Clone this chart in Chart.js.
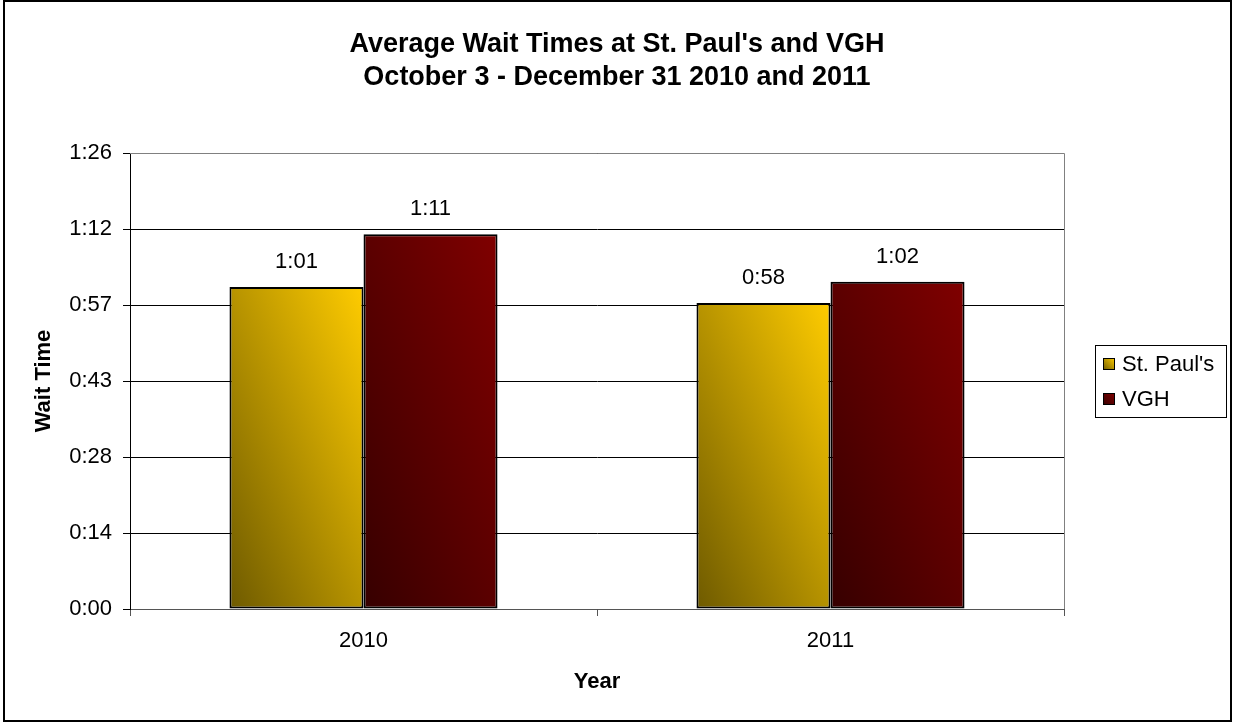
<!DOCTYPE html>
<html>
<head>
<meta charset="utf-8">
<title>Average Wait Times</title>
<script src="https://cdn.jsdelivr.net/npm/chart.js@4.4.1/dist/chart.umd.min.js"></script>
<style>
  html, body { margin: 0; padding: 0; background: #fff; }
</style>
</head>
<body>
<canvas id="grafica" width="1233" height="723"></canvas>
<script>
// Datos de la gráfica (minutos de espera)
const anios = ['2010', '2011'];
const esperaStPaul = [61, 58];
const esperaVGH = [71, 62];
const etiquetasEjeY = ['0:00', '0:14', '0:28', '0:43', '0:57', '1:12', '1:26'];
const pasoEjeY = 14.4;
const maxEjeY = 86.4;
const titulo = ["Average Wait Times at St. Paul's and VGH", 'October 3 - December 31 2010 and 2011'];
const nombresSeries = ["St. Paul's", 'VGH'];

const fuente = '"Liberation Sans", Arial, sans-serif';
const porcentajeCategoria = 0.574;

// Colores del degradado (abajo-izquierda -> arriba-derecha)
const coloresSeries = [
  ['#6e5a00', '#ffcc00'],
  ['#360000', '#800000']
];

// Degradado diagonal tipo Excel dentro de un rectángulo
function crearDegradado(ctx, izq, arriba, ancho, alto, colores) {
  const gx = 1 / (2 * ancho);
  const gy = -1 / (2 * alto);
  const n = gx * gx + gy * gy;
  const x0 = izq, y0 = arriba + alto;
  const g = ctx.createLinearGradient(x0, y0, x0 + gx / n, y0 + gy / n);
  g.addColorStop(0, colores[0]);
  g.addColorStop(1, colores[1]);
  return g;
}

function fondoBarra(context) {
  const colores = coloresSeries[context.datasetIndex];
  const chart = context.chart;
  if (!chart.chartArea || context.type !== 'data') return colores[1];
  const x = chart.scales.x;
  const y = chart.scales.y;
  const anchoGrupo = (x.width / anios.length) * porcentajeCategoria;
  const anchoBarra = anchoGrupo / 2;
  const izq = x.getPixelForValue(context.dataIndex) - anchoGrupo / 2 + context.datasetIndex * anchoBarra;
  const arriba = y.getPixelForValue(context.raw);
  const abajo = y.getPixelForValue(0);
  return crearDegradado(chart.ctx, izq, arriba, anchoBarra, abajo - arriba, colores);
}

function formatoHora(min) {
  const h = Math.floor(min / 60);
  const m = Math.round(min - h * 60);
  return h + ':' + (m < 10 ? '0' + m : m);
}

// Fondo blanco, título, borde del área de trazado y borde exterior
const pluginMarco = {
  id: 'marco',
  beforeDraw(chart) {
    const ctx = chart.ctx;
    ctx.save();
    ctx.fillStyle = '#fff';
    ctx.fillRect(0, 0, chart.width, chart.height);
    ctx.restore();
  },
  beforeDatasetsDraw(chart) {
    const {ctx, chartArea} = chart;
    ctx.save();
    ctx.strokeStyle = '#808080';
    ctx.lineWidth = 1;
    ctx.beginPath();
    ctx.moveTo(chartArea.left, Math.round(chartArea.top) + 0.5);
    ctx.lineTo(Math.round(chartArea.right) + 0.5, Math.round(chartArea.top) + 0.5);
    ctx.lineTo(Math.round(chartArea.right) + 0.5, chartArea.bottom);
    ctx.stroke();
    ctx.restore();
  },
  afterDraw(chart) {
    const ctx = chart.ctx;
    ctx.save();
    ctx.fillStyle = '#000';
    ctx.textAlign = 'center';
    ctx.textBaseline = 'middle';
    ctx.font = 'bold 27px ' + fuente;
    ctx.fillText(titulo[0], 617, 45);
    ctx.fillText(titulo[1], 617, 78);
    ctx.strokeStyle = '#000';
    ctx.lineWidth = 2;
    ctx.strokeRect(4, 1, 1227, 720);
    ctx.restore();
  }
};

// Etiquetas de valor encima de cada barra
const pluginEtiquetas = {
  id: 'etiquetas',
  afterDatasetsDraw(chart) {
    const ctx = chart.ctx;
    ctx.save();
    ctx.fillStyle = '#000';
    ctx.font = '22px ' + fuente;
    ctx.textAlign = 'center';
    ctx.textBaseline = 'middle';
    chart.data.datasets.forEach((ds, i) => {
      chart.getDatasetMeta(i).data.forEach((barra, j) => {
        ctx.fillText(formatoHora(ds.data[j]), barra.x, barra.y - 25);
      });
    });
    ctx.restore();
  }
};

// Leyenda con recuadro a la derecha
const pluginLeyenda = {
  id: 'leyenda',
  afterDraw(chart) {
    const ctx = chart.ctx;
    const caja = {x: 1095, y: 345, w: 131, h: 72};
    ctx.save();
    ctx.strokeStyle = '#000';
    ctx.lineWidth = 1;
    ctx.strokeRect(caja.x + 0.5, caja.y + 0.5, caja.w, caja.h);
    ctx.font = '22px ' + fuente;
    ctx.textBaseline = 'middle';
    ctx.textAlign = 'left';
    nombresSeries.forEach((nombre, i) => {
      const cy = 364 + i * 35;
      const mx = 1103, tam = 12;
      ctx.fillStyle = crearDegradado(ctx, mx, cy - tam / 2, tam, tam, coloresSeries[i]);
      ctx.fillRect(mx, cy - tam / 2, tam, tam);
      ctx.strokeRect(mx + 0.5, cy - tam / 2 + 0.5, tam - 1, tam - 1);
      ctx.fillStyle = '#000';
      ctx.fillText(nombre, 1122, cy + 1);
    });
    ctx.restore();
  }
};

const ctx = document.getElementById('grafica').getContext('2d');
const grafica = new Chart(ctx, {
  type: 'bar',
  data: {
    labels: anios,
    datasets: [
      {
        label: nombresSeries[0],
        data: esperaStPaul,
        backgroundColor: fondoBarra,
        borderColor: '#000',
        borderWidth: 2,
        borderSkipped: false
      },
      {
        label: nombresSeries[1],
        data: esperaVGH,
        backgroundColor: fondoBarra,
        borderColor: '#000',
        borderWidth: 2,
        borderSkipped: false
      }
    ]
  },
  options: {
    responsive: false,
    animation: false,
    devicePixelRatio: 1,
    events: [],
    categoryPercentage: porcentajeCategoria,
    barPercentage: 1,
    layout: {
      padding: {left: 0, right: 169, top: 153, bottom: 14}
    },
    plugins: {
      legend: {display: false},
      title: {display: false},
      tooltip: {enabled: false}
    },
    scales: {
      x: {
        grid: {
          offset: true,
          drawOnChartArea: false,
          drawTicks: true,
          tickLength: 7,
          color: '#555'
        },
        border: {color: '#555', width: 1},
        ticks: {
          color: '#000',
          padding: 12,
          font: {family: fuente, size: 22}
        },
        title: {
          display: true,
          text: 'Year',
          color: '#000',
          font: {family: fuente, size: 22, weight: 'bold'},
          padding: {top: 0, bottom: 14}
        },
        afterFit(escala) { escala.height = 100; }
      },
      y: {
        min: 0,
        max: maxEjeY,
        grid: {
          color: '#000',
          tickLength: 7
        },
        border: {color: '#000', width: 1},
        ticks: {
          stepSize: pasoEjeY,
          color: '#000',
          padding: 11,
          font: {family: fuente, size: 22},
          callback: (v) => etiquetasEjeY[Math.round(v / pasoEjeY)]
        },
        title: {
          display: true,
          text: 'Wait Time',
          color: '#000',
          font: {family: fuente, size: 22, weight: 'bold'},
          padding: {top: 31, bottom: 0}
        },
        afterFit(escala) { escala.width = 130; }
      }
    }
  },
  plugins: [pluginMarco, pluginEtiquetas, pluginLeyenda]
});
</script>
</body>
</html>
